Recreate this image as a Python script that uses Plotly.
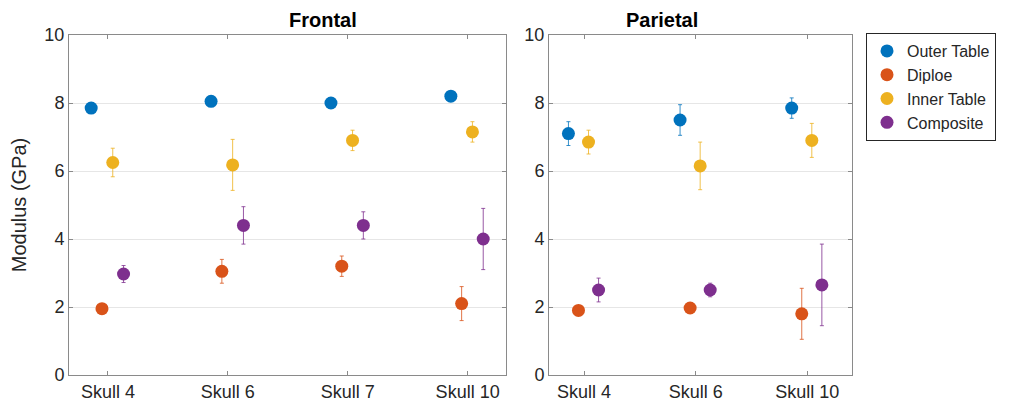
import plotly.graph_objects as go

series = ["Outer Table", "Diploe", "Inner Table", "Composite"]
colors = ["#0072BD", "#D95319", "#EDB120", "#7E2F8E"]

frontal_skulls = ["Skull 4", "Skull 6", "Skull 7", "Skull 10"]
frontal_vals = [
    [7.85, 8.05, 8.0, 8.2],
    [1.95, 3.05, 3.2, 2.1],
    [6.25, 6.18, 6.9, 7.15],
    [2.97, 4.4, 4.4, 4.0],
]
frontal_err = [
    [0.05, 0.05, 0.05, 0.05],
    [0.05, 0.35, 0.3, 0.5],
    [0.42, 0.75, 0.3, 0.3],
    [0.25, 0.55, 0.4, 0.9],
]

parietal_skulls = ["Skull 4", "Skull 6", "Skull 10"]
parietal_vals = [
    [7.1, 7.5, 7.85],
    [1.9, 1.97, 1.8],
    [6.85, 6.15, 6.9],
    [2.5, 2.5, 2.65],
]
parietal_err = [
    [0.35, 0.45, 0.3],
    [0.05, 0.05, 0.75],
    [0.35, 0.7, 0.5],
    [0.35, 0.2, 1.2],
]

offsets = [-0.14, -0.05, 0.04, 0.13]

W, H = 1010, 412
OFF = 8  # page body offset


def px(x):
    return (x - OFF) / W


def py(y):
    return 1 - (y - OFF) / H


fig = go.Figure()
for i, name in enumerate(series):
    fig.add_trace(go.Scatter(
        x=[k + 1 + offsets[i] for k in range(len(frontal_skulls))],
        y=frontal_vals[i], mode="markers", name=name,
        marker=dict(color=colors[i], size=13),
        error_y=dict(array=frontal_err[i], color=colors[i], thickness=0.8, width=2),
        xaxis="x", yaxis="y"))
    fig.add_trace(go.Scatter(
        x=[k + 1 + offsets[i] for k in range(len(parietal_skulls))],
        y=parietal_vals[i], mode="markers", name=name, showlegend=False,
        marker=dict(color=colors[i], size=13),
        error_y=dict(array=parietal_err[i], color=colors[i], thickness=0.8, width=2),
        xaxis="x2", yaxis="y2"))

ax = dict(showline=True, linecolor="#8a8a8a", linewidth=1, mirror="ticks",
          ticks="inside", ticklen=4, tickcolor="#8a8a8a", automargin=False,
          tickfont=dict(size=18, color="#262626"), zeroline=False)
yax = dict(ax, range=[0, 10], dtick=2, showgrid=True, gridcolor="#e6e6e6",
           domain=[py(375), py(35)])

fig.update_layout(
    width=W, height=H, margin=dict(l=0, r=0, t=0, b=0),
    paper_bgcolor="white", plot_bgcolor="white",
    font=dict(family="Liberation Sans, Arial", color="#262626"),
    xaxis=dict(ax, domain=[px(69), px(506)], range=[0.675, 4.32], showgrid=False,
               tickvals=[1, 2, 3, 4], ticktext=frontal_skulls),
    yaxis=dict(yax, anchor="x", title=dict(text="Modulus (GPa)", font=dict(size=20), standoff=12)),
    xaxis2=dict(ax, domain=[px(549), px(852)], range=[0.686, 3.4], showgrid=False,
                tickvals=[1, 2, 3], ticktext=parietal_skulls, anchor="y2"),
    yaxis2=dict(yax, anchor="x2"),
    legend=dict(x=px(866), y=py(33), xanchor="left", yanchor="top",
                bordercolor="#262626", borderwidth=1, font=dict(size=16),
                tracegroupgap=0),
    annotations=[
        dict(text="<b>Frontal</b>", x=px(287), y=py(33), xref="paper", yref="paper",
             showarrow=False, yanchor="bottom", font=dict(size=20, color="black")),
        dict(text="<b>Parietal</b>", x=px(700), y=py(33), xref="paper", yref="paper",
             showarrow=False, yanchor="bottom", font=dict(size=20, color="black")),
    ],
)

fig.write_html("out.html")
